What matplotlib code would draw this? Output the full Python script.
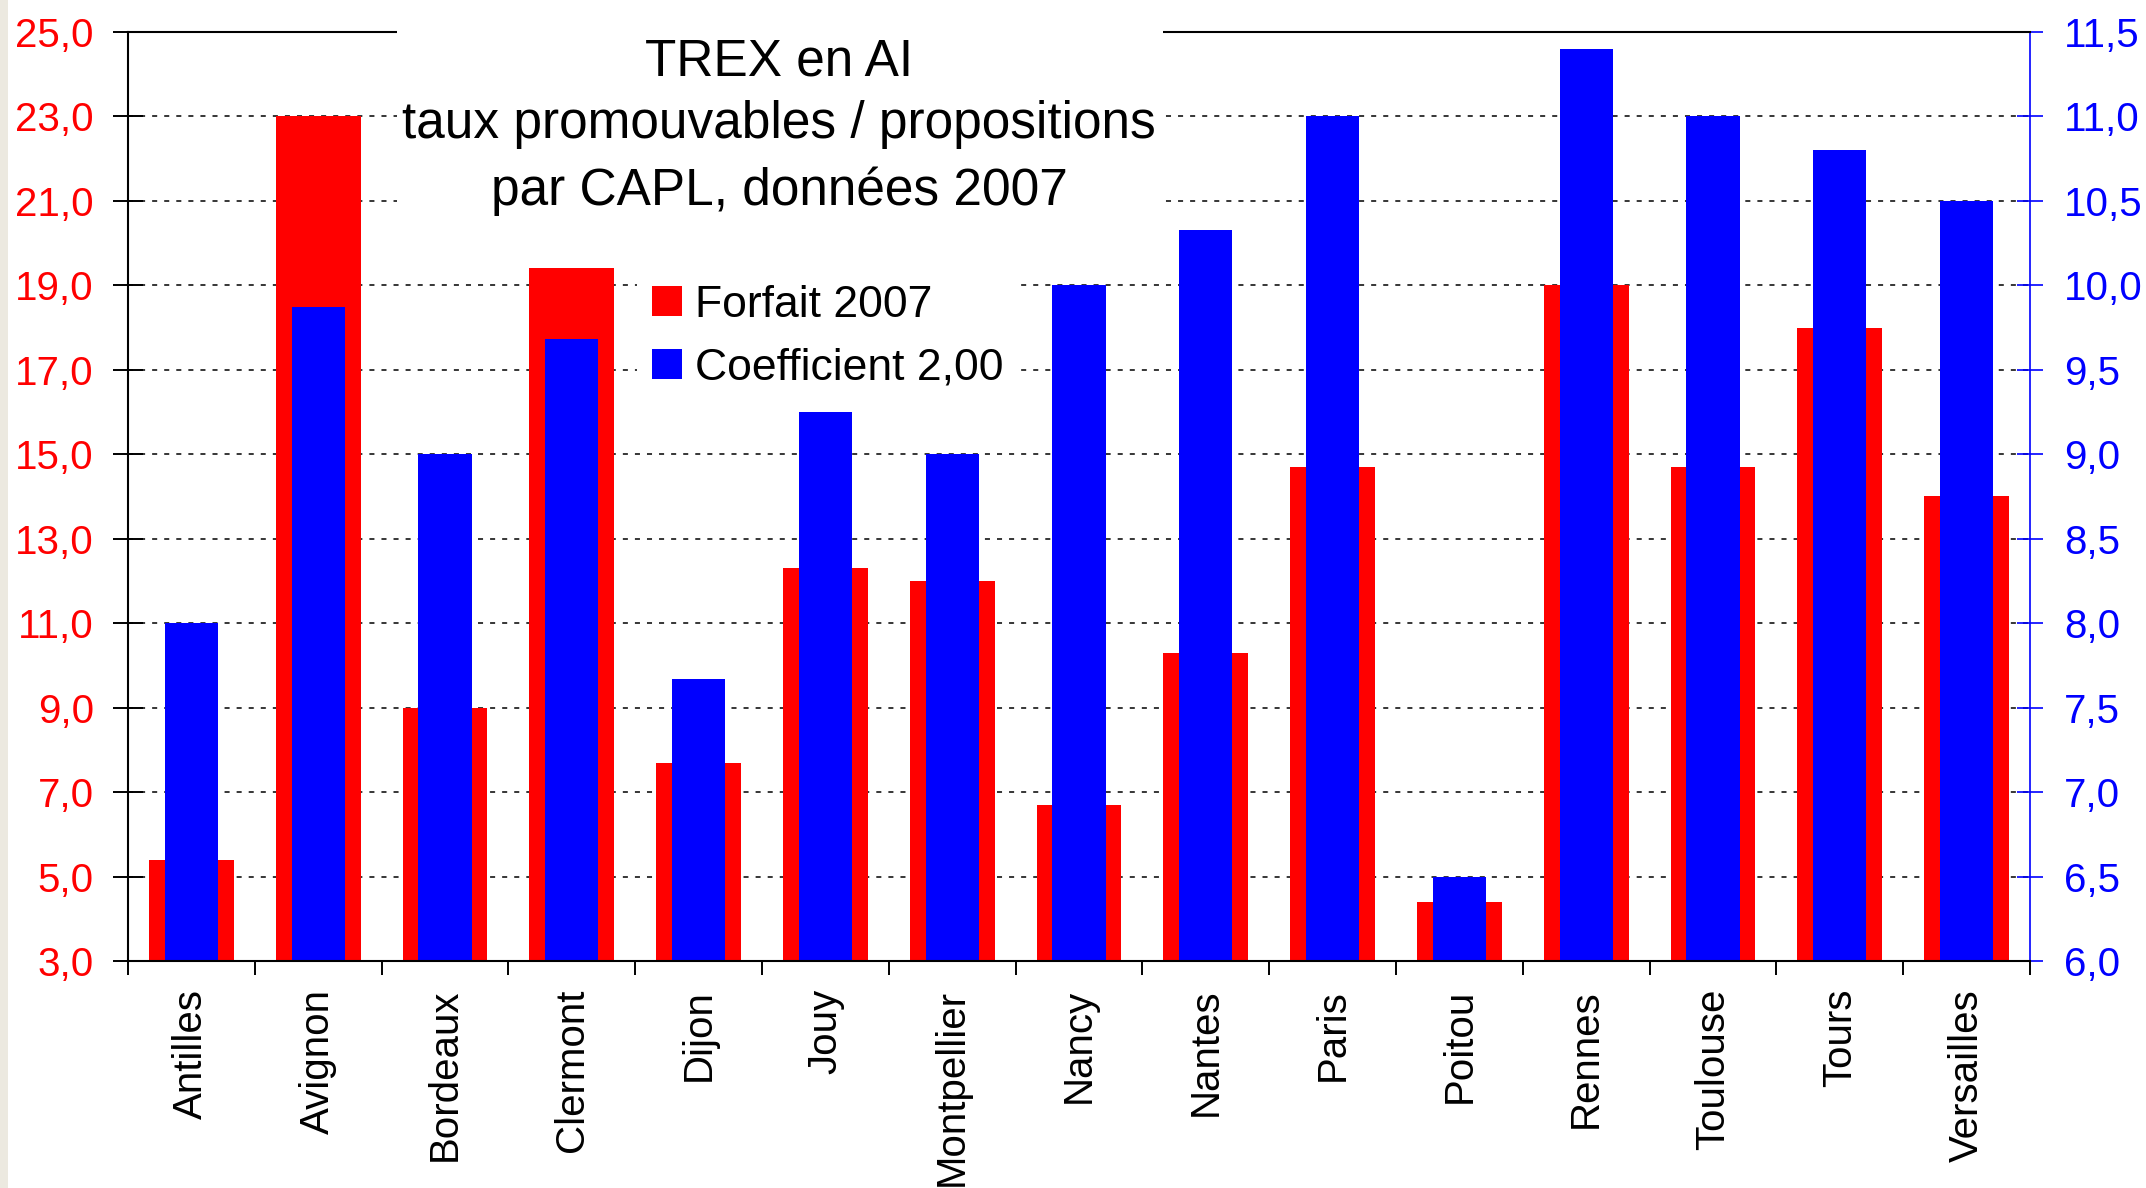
import numpy as np
import matplotlib
matplotlib.use('Agg')
import matplotlib.pyplot as plt
from matplotlib.patches import Rectangle
from matplotlib.ticker import FuncFormatter

# ---- data ----
categories = ['Antilles', 'Avignon', 'Bordeaux', 'Clermont', 'Dijon', 'Jouy',
              'Montpellier', 'Nancy', 'Nantes', 'Paris', 'Poitou', 'Rennes',
              'Toulouse', 'Tours', 'Versailles']
forfait = [5.4, 23.0, 9.0, 19.4, 7.7, 12.3, 12.0, 6.7, 10.3, 14.7, 4.4, 19.0, 14.7, 18.0, 14.0]
coefficient = [8.0, 9.87, 9.0, 9.68, 7.67, 9.25, 9.0, 10.0, 10.33, 11.0, 6.5, 11.4, 11.0, 10.8, 10.5]
left_ticks = [3, 5, 7, 9, 11, 13, 15, 17, 19, 21, 23, 25]
right_ticks = [6.0, 6.5, 7.0, 7.5, 8.0, 8.5, 9.0, 9.5, 10.0, 10.5, 11.0, 11.5]
title_lines = ['TREX en AI', 'taux promouvables / propositions', 'par CAPL, données 2007']
legend_labels = ['Forfait 2007', 'Coefficient 2,00']

plt.rcParams['font.family'] = ['Liberation Sans', 'DejaVu Sans']

RED = '#FF0000'
BLUE = '#0000FF'

fig = plt.figure(figsize=(21.46, 11.88), dpi=100)
fig.patch.set_facecolor('white')
fig.patches.append(Rectangle((0, 0), 8 / 2146, 1, transform=fig.transFigure,
                             facecolor='#ECE9E0', edgecolor='none'))

ax1 = fig.add_axes([0.05965, 0.19108, 0.8863, 0.78199])
ax2 = ax1.twinx()

x = np.arange(len(categories))
comma = FuncFormatter(lambda v, p: f'{v:.1f}'.replace('.', ','))

# red bars (left axis)
b1 = ax1.bar(x, forfait, width=0.67, color=RED, zorder=2)
ax1.set_xlim(-0.5, len(categories) - 0.5)
ax1.set_ylim(3, 25)
ax1.set_yticks(left_ticks)
ax1.yaxis.set_major_formatter(comma)
ax1.grid(axis='y', color='black', linestyle=(0, (3.3, 4.6)), linewidth=1.1)
ax1.set_axisbelow(True)
for s in ax1.spines.values():
    s.set_visible(False)
ax1.tick_params(axis='y', direction='inout', length=21, width=1.4, color='black',
                labelcolor=RED, labelsize=29, pad=14)
ax1.set_xticks(x)
ax1.set_xticklabels(categories, rotation=90, ha='center', va='top')
ax1.set_xticks(np.arange(-0.5, len(categories), 1), minor=True)
ax1.tick_params(axis='x', which='major', length=0, labelsize=29, pad=20)
ax1.tick_params(axis='x', which='minor', direction='out', length=10, width=1.4, color='black')

# blue bars (right axis)
b2 = ax2.bar(x, coefficient, width=0.42, color=BLUE, zorder=2)
ax2.set_ylim(6, 11.5)
ax2.set_yticks(right_ticks)
ax2.yaxis.set_major_formatter(comma)
ax2.tick_params(axis='y', direction='inout', length=19, width=1.2, color=BLUE,
                labelcolor=BLUE, labelsize=29, pad=15)
for side in ['left', 'bottom', 'top']:
    ax2.spines[side].set_color('black')
    ax2.spines[side].set_linewidth(1.5)
ax2.spines['right'].set_color(BLUE)
ax2.spines['right'].set_linewidth(1.2)

# title in a white box covering the frame
ax2.add_patch(Rectangle((0.1414, 0.7761), 0.4028, 0.239, transform=ax2.transAxes,
                        facecolor='white', edgecolor='none', clip_on=False, zorder=10))
for line, yb in zip(title_lines, [0.9537, 0.8859, 0.8138]):
    ax2.text(0.3423, yb, line, transform=ax2.transAxes, ha='center', va='baseline',
             fontsize=37, color='black', zorder=11, clip_on=False)

leg = ax2.legend([b1, b2], legend_labels, loc='center left',
                 bbox_to_anchor=(0.2676, 0.672), bbox_transform=ax2.transAxes,
                 borderaxespad=0, frameon=True, fancybox=False, facecolor='white',
                 edgecolor='none', framealpha=1, fontsize=32, handlelength=0.675,
                 handleheight=0.65, handletextpad=0.3, borderpad=0.34, labelspacing=0.5)
leg.set_zorder(12)

fig.savefig('out.png', dpi=100, facecolor='white')
